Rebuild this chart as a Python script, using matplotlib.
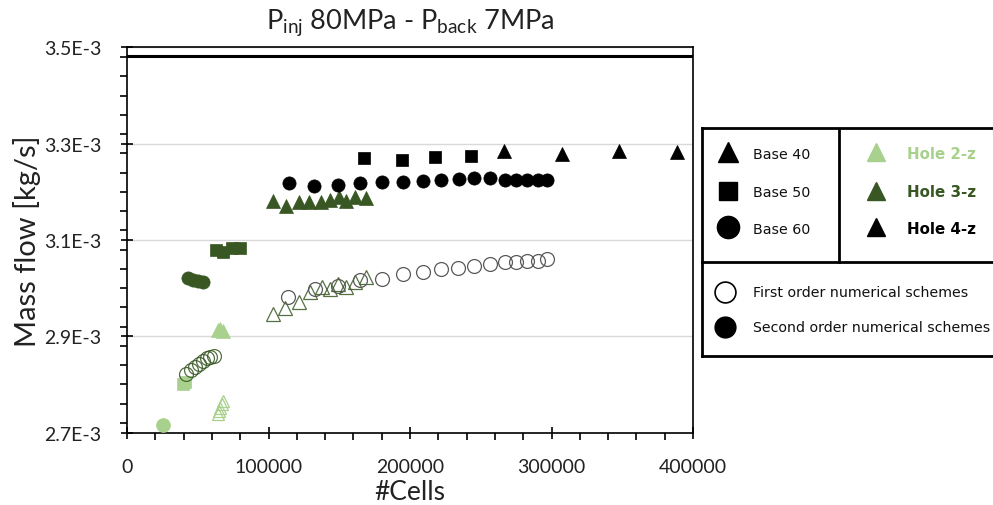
import numpy as np
import matplotlib
matplotlib.use("Agg")
import matplotlib.pyplot as plt
from matplotlib.ticker import MultipleLocator, FuncFormatter

# ---------------- data (mass flow in units of 1E-3 kg/s) ----------------
# Hole 2-z (light green)
h2_b60_2nd_x = [25700]
h2_b60_2nd_y = [2.716]
h2_b50_2nd_x = [39500, 41000]
h2_b50_2nd_y = [2.800, 2.806]
h2_b40_2nd_x = [64500, 66000, 67500]
h2_b40_2nd_y = [2.913, 2.916, 2.912]
h2_b40_1st_x = [64000, 65000, 66000, 67000, 68000]
h2_b40_1st_y = [2.738, 2.745, 2.752, 2.759, 2.766]

# Hole 3-z (dark green)
h3_b60_2nd_x = [42900, 46900, 50400, 53900]
h3_b60_2nd_y = [3.021, 3.017, 3.014, 3.012]
h3_b60_1st_x = [41700, 45000, 48000, 51100, 53900, 56300, 58700, 61500]
h3_b60_1st_y = [2.822, 2.829, 2.836, 2.842, 2.849, 2.854, 2.858, 2.860]
h3_b50_2nd_x = [63000, 68000, 74000, 80000]
h3_b50_2nd_y = [3.079, 3.076, 3.083, 3.083]
h3_b40_2nd_x = [103400, 112400, 121600, 128900, 137000, 143500, 150000, 155000, 161000, 169000]
h3_b40_2nd_y = [3.180, 3.171, 3.178, 3.178, 3.178, 3.183, 3.189, 3.182, 3.190, 3.187]
h3_b40_1st_x = [103400, 112000, 121500, 129000, 137600, 143500, 149000, 155000, 161000, 169000]
h3_b40_1st_y = [2.946, 2.958, 2.972, 2.991, 3.002, 2.998, 3.009, 3.003, 3.012, 3.023]

# Hole 4-z (black)
h4_b60_2nd_x = [114500, 132400, 148900, 165000, 180000, 195000, 209000, 222000,
                234600, 245000, 256500, 267000, 275000, 283000, 290700, 297000]
h4_b60_2nd_y = [3.218, 3.213, 3.215, 3.218, 3.220, 3.221, 3.223, 3.225,
                3.227, 3.228, 3.229, 3.225, 3.225, 3.225, 3.225, 3.225]
h4_b60_1st_x = [114000, 133000, 149000, 165000, 180000, 195000, 209000, 222000,
                234000, 245000, 256500, 267000, 275000, 283000, 290700, 297000]
h4_b60_1st_y = [2.982, 2.998, 3.005, 3.016, 3.019, 3.029, 3.033, 3.040,
                3.042, 3.047, 3.050, 3.055, 3.054, 3.056, 3.056, 3.060]
h4_b50_2nd_x = [167700, 194500, 218000, 243000]
h4_b50_2nd_y = [3.270, 3.267, 3.272, 3.275]
h4_b40_2nd_x = [266600, 307600, 348000, 389000]
h4_b40_2nd_y = [3.285, 3.279, 3.284, 3.282]

ref_line_y = 3.4815

y_ticks = [2.7, 2.9, 3.1, 3.3, 3.5]
x_ticks = [0, 100000, 200000, 300000, 400000]

base_labels = ["Base 40", "Base 50", "Base 60"]
hole_labels = ["Hole 2-z", "Hole 3-z", "Hole 4-z"]
scheme_labels = ["First order numerical schemes", "Second order numerical schemes"]

LIGHT = "#a9d18e"
DARK = "#385723"
BLACK = "#000000"
GREY = "#595959"

# ---------------- figure ----------------
fig = plt.figure(figsize=(9.93, 5.06), dpi=100)
ax = fig.add_axes([127/993, 1-433.6/506, 566/993, (433.6-48.4)/506])

E = 1e-3
def Y(v):
    return np.asarray(v) * E

def filled(x, y, m, c, ms):
    ax.plot(x, Y(y), linestyle="none", marker=m, color=c, markersize=ms,
            markeredgecolor=c, markeredgewidth=0.5, zorder=3)

def hollow(x, y, m, c, ms, alpha=1.0):
    ax.plot(x, Y(y), linestyle="none", marker=m, markerfacecolor="none",
            markeredgecolor=c, markersize=ms, markeredgewidth=0.9, alpha=alpha, zorder=3)

ax.axhline(ref_line_y * E, color="black", lw=2.2, zorder=4)

# hole 2-z
filled(h2_b60_2nd_x, h2_b60_2nd_y, "o", LIGHT, 10)
filled(h2_b50_2nd_x, h2_b50_2nd_y, "s", LIGHT, 9)
filled(h2_b40_2nd_x, h2_b40_2nd_y, "^", LIGHT, 9.5)
hollow(h2_b40_1st_x, h2_b40_1st_y, "^", LIGHT, 9)
# hole 3-z
filled(h3_b60_2nd_x, h3_b60_2nd_y, "o", DARK, 9.5)
hollow(h3_b60_1st_x, h3_b60_1st_y, "o", DARK, 10, alpha=0.85)
filled(h3_b50_2nd_x, h3_b50_2nd_y, "s", DARK, 9)
filled(h3_b40_2nd_x, h3_b40_2nd_y, "^", DARK, 9.5)
hollow(h3_b40_1st_x, h3_b40_1st_y, "^", DARK, 10, alpha=0.85)
# hole 4-z
filled(h4_b60_2nd_x, h4_b60_2nd_y, "o", BLACK, 9.5)
hollow(h4_b60_1st_x, h4_b60_1st_y, "o", GREY, 10)
filled(h4_b50_2nd_x, h4_b50_2nd_y, "s", BLACK, 9)
filled(h4_b40_2nd_x, h4_b40_2nd_y, "^", BLACK, 10)

ax.set_xlim(0, 400000)
ax.set_ylim(Y(2.7), Y(3.5))
ax.set_xticks(x_ticks)
ax.set_yticks(Y(y_ticks))
ax.xaxis.set_minor_locator(MultipleLocator(20000))
ax.yaxis.set_minor_locator(MultipleLocator(0.04e-3))
ax.yaxis.set_major_formatter(FuncFormatter(lambda v, p: f"{v/E:.1f}E-3"))
ax.xaxis.set_major_formatter(FuncFormatter(lambda v, p: f"{int(round(v))}"))
ax.grid(axis="y", which="major", color="#d9d9d9", lw=1.0, zorder=0)
ax.set_axisbelow(True)

tick_font = "Lato"
ax.tick_params(axis="both", which="major", direction="inout", length=9, width=1.2,
               labelsize=14, color="black")
ax.tick_params(axis="y", which="major", pad=14)
ax.tick_params(axis="x", which="major", pad=14)
ax.tick_params(axis="both", which="minor", direction="out", length=5, width=1.2, color="black")
for lab in ax.get_xticklabels() + ax.get_yticklabels():
    lab.set_fontfamily(tick_font)
    lab.set_color("#222222")
for s in ax.spines.values():
    s.set_linewidth(1.2)
    s.set_color("black")

ax.set_xlabel("#Cells", fontsize=19, fontfamily="Lato", labelpad=3, color="#222222")
ax.set_ylabel("Mass flow [kg/s]", fontsize=21, fontfamily="Lato", labelpad=2, color="#222222")
ax.set_title(r"P$_{\mathregular{inj}}$ 80MPa - P$_{\mathregular{back}}$ 7MPa",
             fontsize=19.5, fontfamily="Lato", pad=14, color="#222222")

# ---------------- custom legend panel ----------------
L0, T0, B0 = 701.7, 129.3, 357.3
R0 = 1005.0
lax = fig.add_axes([L0/993, 1-B0/506, (R0-L0)/993, (B0-T0)/506])
lax.set_xlim(L0, R0)
lax.set_ylim(B0, T0)
lax.set_xticks([]); lax.set_yticks([])
for s in lax.spines.values():
    s.set_linewidth(2)
    s.set_color("black")
div_y = 262.7
div_x = 839.3
lax.plot([L0, R0], [div_y, div_y], color="black", lw=2, clip_on=False)
lax.plot([div_x, div_x], [T0, div_y], color="black", lw=2)

row_y = [155.0, 193.0, 230.0]
base_markers = ["^", "s", "o"]
base_ms = [14, 13, 16]
marker_y = [153.3, 191.7, 228.3]
for yy, my, m, ms, lab in zip(row_y, marker_y, base_markers, base_ms, base_labels):
    lax.plot([728.3], [my], marker=m, color="black", markersize=ms, linestyle="none")
    lax.text(753.3, yy, lab, fontsize=10.3, va="center", ha="left",
             fontfamily="DejaVu Sans", color="#111111")

hole_colors = [LIGHT, DARK, BLACK]
for yy, my, c, lab in zip(row_y, marker_y, hole_colors, hole_labels):
    lax.plot([875.7], [my], marker="^", color=c, markersize=13, linestyle="none")
    lax.text(906.7, yy, lab, fontsize=10.8, va="center", ha="left",
             fontfamily="DejaVu Sans", fontweight="bold", color=c)

scheme_y = [293.3, 328.3]
lax.plot([725], [scheme_y[0]], marker="o", markerfacecolor="white", markeredgecolor="black",
         markersize=15, markeredgewidth=1.2, linestyle="none")
lax.plot([725], [scheme_y[1]], marker="o", color="black", markersize=15, linestyle="none")
for yy, lab in zip(scheme_y, scheme_labels):
    lax.text(753.3, yy, lab, fontsize=10.2, va="center", ha="left",
             fontfamily="DejaVu Sans", color="#111111")

fig.savefig("out.png", dpi=100)
